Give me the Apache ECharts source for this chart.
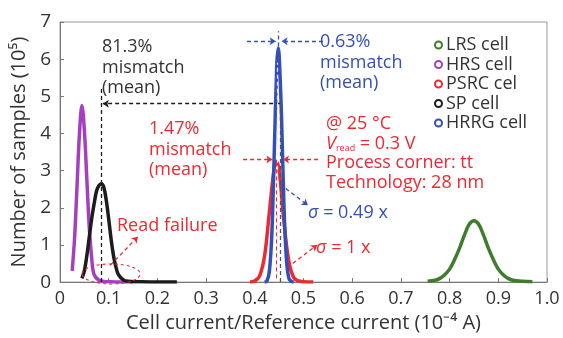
<!DOCTYPE html>
<html><head><meta charset="utf-8">
<script src="https://cdn.jsdelivr.net/npm/echarts@6/dist/echarts.min.js"></script>
<style>html,body{margin:0;padding:0;background:#fff}#c{width:563px;height:338px}</style>
</head><body><div id="c"></div>
<script>
// ---- data ----
const seriesNames = ['LRS cell', 'HRS cell', 'PSRC cel', 'SP cell', 'HRRG cell'];
const xTicks = [0, 0.1, 0.2, 0.3, 0.4, 0.5, 0.6, 0.7, 0.8, 0.9, 1.0];

const lrsX = [0.755, 0.77, 0.78, 0.79, 0.80, 0.81, 0.82, 0.83, 0.84, 0.85, 0.86, 0.87, 0.88, 0.89, 0.90, 0.91, 0.92, 0.93, 0.95, 0.97];
const lrsY = [0.02, 0.05, 0.10, 0.20, 0.35, 0.60, 0.90, 1.25, 1.55, 1.65, 1.55, 1.25, 0.90, 0.60, 0.35, 0.20, 0.10, 0.05, 0.02, 0.01];

const hrsX = [0.025, 0.03, 0.035, 0.04, 0.045, 0.05, 0.055, 0.06, 0.065, 0.07, 0.08, 0.09, 0.10, 0.12, 0.15];
const hrsY = [0.30, 1.20, 2.60, 4.00, 4.75, 4.10, 2.80, 1.50, 0.65, 0.20, 0.05, 0.02, 0.01, 0.00, 0.00];

const psrcX = [0.39, 0.40, 0.41, 0.42, 0.43, 0.44, 0.444, 0.45, 0.46, 0.47, 0.48, 0.49, 0.50, 0.52];
const psrcY = [0.00, 0.03, 0.17, 0.70, 1.90, 3.10, 3.25, 3.00, 1.60, 0.55, 0.12, 0.03, 0.01, 0.00];

const spX = [0.045, 0.05, 0.055, 0.06, 0.065, 0.07, 0.075, 0.08, 0.085, 0.09, 0.095, 0.10, 0.105, 0.11, 0.115, 0.12, 0.13, 0.14, 0.16, 0.20, 0.24];
const spY = [0.10, 0.30, 0.70, 1.20, 1.70, 2.10, 2.45, 2.60, 2.65, 2.55, 2.20, 1.70, 1.15, 0.70, 0.40, 0.20, 0.06, 0.02, 0.01, 0.00, 0.00];

const hrrgX = [0.42, 0.425, 0.43, 0.435, 0.44, 0.445, 0.448, 0.45, 0.455, 0.46, 0.465, 0.47, 0.475, 0.48];
const hrrgY = [0.00, 0.03, 0.30, 1.30, 3.50, 5.80, 6.30, 6.10, 4.40, 2.00, 0.60, 0.10, 0.02, 0.00];

// annotation anchors (data coordinates)
const spMeanX = 0.085, hrrgMeanX = 0.452, mismatchSPY = 4.8;
const psrcMeanX = 0.444, psrcMarkY = 3.3;
const hrrgMarkY = 6.48;

// ---- styles ----
const C = { green: '#3f7d2c', purple: '#a43fc0', red: '#ec2a32', black: '#1c1c1c', blue: '#3450b8' };
const FONT = 'Open Sans';
const FS = 18;
const zip = (xs, ys) => xs.map((x, i) => [x, ys[i]]);

const chart = echarts.init(document.getElementById('c'), null, { renderer: 'canvas' });

const dash = [4, 3];
function seg(a, b, color, arrowEnd, width) {
  return [
    { coord: a, symbol: 'none', lineStyle: { color: color, type: dash, width: width || 1.3 } },
    { coord: b, symbol: arrowEnd ? 'arrow' : 'none', symbolSize: 6 }
  ];
}
function mk(list) {
  return { silent: true, animation: false, symbol: ['none', 'none'], label: { show: false }, emphasis: { disabled: true }, data: list };
}
function lineSeries(name, xs, ys, color, extra) {
  return Object.assign({
    name: name, type: 'line', data: zip(xs, ys), showSymbol: false, smooth: 0.35,
    lineStyle: { color: color, width: 3.5 }, itemStyle: { color: color }, animation: false, z: 2
  }, extra || {});
}

const option = {
  animation: false,
  textStyle: { fontFamily: FONT },
  grid: { left: 60, right: 16, top: 22, bottom: 52, show: true, borderColor: '#9a9a9a', borderWidth: 1 },
  xAxis: {
    type: 'value', min: 0, max: 1, interval: 0.1,
    name: 'Cell current/Reference current (10\u207B\u2074 A)', nameLocation: 'middle', nameGap: 29,
    nameTextStyle: { fontSize: 20, color: '#333', fontFamily: FONT },
    axisLine: { lineStyle: { color: '#777' } },
    axisTick: { inside: true, length: 4, lineStyle: { color: '#777' } },
    axisLabel: { fontSize: 18, color: '#333', margin: 8, fontFamily: FONT,
      formatter: v => (v === 0 ? '0' : (Math.abs(v - 1) < 1e-9 ? '1.0' : v.toFixed(1))) },
    splitLine: { show: false }
  },
  yAxis: {
    type: 'value', min: 0, max: 7, interval: 1,
    name: 'Number of samples (10\u2075)', nameLocation: 'middle', nameGap: 30,
    nameTextStyle: { fontSize: 20, color: '#333', fontFamily: FONT },
    axisLine: { show: true, lineStyle: { color: '#777' } },
    axisTick: { show: true, inside: true, length: 4, lineStyle: { color: '#777' } },
    axisLabel: { fontSize: 19, color: '#333', margin: 9, fontFamily: FONT },
    splitLine: { show: false }
  },
  legend: {
    orient: 'vertical', left: 434, top: 36, icon: 'circle', itemWidth: 7, itemHeight: 7, itemGap: 1.5,
    padding: 0, selectedMode: false,
    textStyle: { fontSize: FS, color: '#333', fontFamily: FONT, padding: [0, 0, 0, -1] },
    data: [
      { name: seriesNames[0], itemStyle: { color: '#fff', borderColor: C.green, borderWidth: 2 } },
      { name: seriesNames[1], itemStyle: { color: '#fff', borderColor: C.purple, borderWidth: 2 } },
      { name: seriesNames[2], itemStyle: { color: '#fff', borderColor: C.red, borderWidth: 2 } },
      { name: seriesNames[3], itemStyle: { color: '#fff', borderColor: C.black, borderWidth: 2 } },
      { name: seriesNames[4], itemStyle: { color: '#fff', borderColor: C.blue, borderWidth: 2 } }
    ]
  },
  series: [
    lineSeries(seriesNames[0], lrsX, lrsY, C.green),
    lineSeries(seriesNames[1], hrsX, hrsY, C.purple),
    lineSeries(seriesNames[3], spX, spY, C.black, {
      markLine: mk([
        seg([spMeanX, 0], [spMeanX, 5.25], C.black, false),
        seg([hrrgMeanX, mismatchSPY], [spMeanX + 0.003, mismatchSPY], C.black, true),
        seg([hrrgMeanX, 0], [hrrgMeanX, mismatchSPY], '#555', false)
      ])
    }),
    lineSeries(seriesNames[2], psrcX, psrcY, C.red, {
      markLine: mk([
        seg([0.376, psrcMarkY], [0.436, psrcMarkY], C.red, true),
        seg([0.53, psrcMarkY], [0.458, psrcMarkY], C.red, true),
        seg([0.478, 0.5], [0.528, 1.0], C.red, true),
        seg([0.103, 0.45], [0.16, 1.22], C.red, true)
      ])
    }),
    lineSeries(seriesNames[4], hrrgX, hrrgY, C.blue, {
      markLine: mk([
        seg([0.384, hrrgMarkY], [0.443, hrrgMarkY], C.blue, true),
        seg([0.54, hrrgMarkY], [0.455, hrrgMarkY], C.blue, true),
        seg([0.448, 6.15], [0.448, 6.75], C.blue, false),
        seg([0.452, 2.63], [0.509, 2.07], C.blue, true),
        seg([0.446, 0.2], [0.446, 5.9], '#e8ecff', false, 1.2),
        seg([psrcMeanX, 0.1], [psrcMeanX, psrcMarkY], C.red, false, 1.0)
      ])
    })
  ]
};
chart.setOption(option);

// ---- text annotations and read-failure ellipse ----
const c1 = chart.convertToPixel({ gridIndex: 0 }, [0.103, 0.22]);
const FONTSTR = FS + 'px "' + FONT + '"';
const txt = (x, y, t, color, lh) => ({
  type: 'text', left: x, top: y, silent: true,
  style: { text: t, fill: color, font: FONTSTR, lineHeight: lh || 20.5 }
});
const italic = color => ({ fontStyle: 'italic', fontSize: FS, fill: color, fontFamily: FONT });
chart.setOption({
  graphic: [
    txt(102, 37, '81.3%\nmismatch\n(mean)', '#333'),
    txt(149, 119, '1.47%\nmismatch\n(mean)', C.red),
    txt(320, 32, '0.63%\nmismatch\n(mean)', C.blue),
    {
      type: 'text', left: 326, top: 114, silent: true,
      style: {
        text: '@ 25 \u00B0C\n{i|V}{s|read} = 0.3 V\nProcess corner: tt\nTechnology: 28 nm',
        fill: C.red, font: FONTSTR, lineHeight: 19.7,
        rich: {
          i: italic(C.red),
          s: { fontSize: 9, fill: C.red, fontFamily: FONT, verticalAlign: 'bottom', padding: [7, 0, 0, 0] }
        }
      }
    },
    {
      type: 'text', left: 308, top: 202, silent: true,
      style: { text: '{i|\u03C3} = 0.49 x', fill: C.blue, font: FONTSTR, lineHeight: 21, rich: { i: italic(C.blue) } }
    },
    {
      type: 'text', left: 316, top: 237, silent: true,
      style: { text: '{i|\u03C3} = 1 x', fill: C.red, font: FONTSTR, lineHeight: 21, rich: { i: italic(C.red) } }
    },
    txt(117, 216, 'Read failure', C.red),
    {
      type: 'ellipse', silent: true, z: 10,
      shape: { cx: c1[0] + 1, cy: c1[1], rx: 29, ry: 10 },
      style: { fill: 'none', stroke: C.red, lineWidth: 1.1, lineDash: [3, 3] }
    }
  ]
});
</script></body></html>
